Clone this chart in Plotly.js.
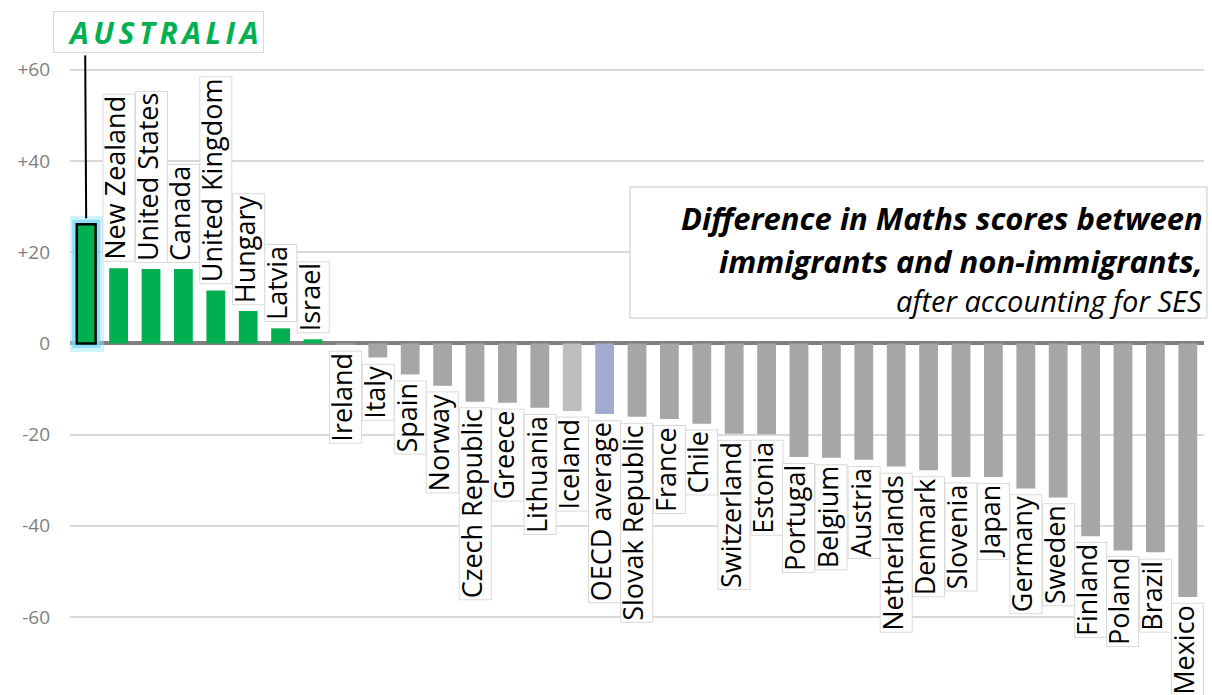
<!DOCTYPE html>
<html><head><meta charset="utf-8">
<script src="https://cdn.plot.ly/plotly-3.0.1.min.js"></script>
<style>html,body{margin:0;padding:0;background:#fff;} #chart{width:1212px;height:695px;}</style>
</head><body><div id="chart"></div>
<script>
const countries = ['Australia','New Zealand','United States','Canada','United Kingdom','Hungary','Latvia','Israel','Ireland','Italy','Spain','Norway','Czech Republic','Greece','Lithuania','Iceland','OECD average','Slovak Republic','France','Chile','Switzerland','Estonia','Portugal','Belgium','Austria','Netherlands','Denmark','Slovenia','Japan','Germany','Sweden','Finland','Poland','Brazil','Mexico'];
const scoreDiff = [26.1,16.5,16.3,16.3,11.6,7.1,3.3,0.9,-0.3,-3.1,-6.8,-9.3,-12.8,-13.0,-14.1,-14.8,-15.5,-16.1,-16.6,-17.6,-19.8,-19.9,-24.9,-25.1,-25.5,-27.0,-27.8,-29.3,-29.3,-31.8,-33.8,-42.3,-45.4,-45.8,-55.6];
const tickValues = [60,40,20,0,-20,-40,-60];
const tickLabels = ['+60','+40','+20','0','-20','-40','-60'];
const highlightCountry = 'Australia';
const highlightLabel = 'AUSTRALIA';
const titleLines = ['Difference in Maths scores between','immigrants and non-immigrants,','after accounting for SES'];

const GREEN = '#00B050', GRAY = '#A6A6A6', LIGHTGRAY = '#BEBEBE', OECDBLUE = '#A3ABCF';
const FONT = 'Open Sans, Noto Sans, sans-serif';

const colors = countries.map((c, i) => {
  if (c === 'OECD average') return OECDBLUE;
  if (c === 'Iceland') return LIGHTGRAY;
  return scoreDiff[i] >= 0 ? GREEN : GRAY;
});
const hi = countries.indexOf(highlightCountry);
const lineWidths = countries.map(c => c === highlightCountry ? 2.5 : 0);

const traces = [
  {type:'bar', x:[countries[hi]], y:[scoreDiff[hi]], width:0.58,
   marker:{color:'rgba(130,222,250,0.5)', line:{color:'rgba(150,228,252,0.45)', width:17}}, hoverinfo:'skip'},
  {type:'bar', x:[countries[hi]], y:[scoreDiff[hi]], width:0.58,
   marker:{color:'rgba(120,218,248,0.8)', line:{color:'rgba(120,218,248,0.75)', width:9}}, hoverinfo:'skip'},
  {type:'bar', x:countries, y:scoreDiff,
   marker:{color:colors, line:{color:'#000000', width:lineWidths}}}
];

const annotations = countries.map((c, i) => {
  if (c === highlightCountry) return null;
  const pos = scoreDiff[i] >= 0;
  return {
    x: c, y: scoreDiff[i], xref:'x', yref:'y', text: c, showarrow:false,
    textangle:-90, xanchor:'center', yanchor: pos ? 'bottom' : 'top',
    yshift: pos ? 6 : -6, height: 29, valign:'bottom',
    bgcolor:'#FFFFFF', bordercolor:'#D9D9D9', borderwidth:1, borderpad:1,
    font:{family:FONT, size:27, color:'#000000'}
  };
}).filter(a => a);

// connector line from the highlight label down to its bar
annotations.push({
  x: countries[hi], y: scoreDiff[hi], xref:'x', yref:'y', text:' ', showarrow:true,
  arrowhead:0, arrowwidth:2, arrowcolor:'#000000', ax:-1, ay:-171, standoff:6,
  font:{size:1}
});
annotations.push({
  xref:'paper', yref:'paper', x:-0.0147, y:0.9842, xanchor:'left', yanchor:'top',
  text: highlightLabel, showarrow:false, width:209, height:40, align:'right', valign:'middle',
  bgcolor:'#FFFFFF', bordercolor:'#D9D9D9', borderwidth:1, borderpad:0,
  font:{family:FONT, size:30, color:GREEN, weight:'bold', style:'italic'}
});
const titleY = [0.6858, 0.6247, 0.5672];
const titleSize = [31, 31, 29];
titleLines.forEach((t, i) => {
  annotations.push({
    xref:'paper', yref:'paper', x:1.0009, y:titleY[i], xanchor:'right', yanchor:'middle',
    text:t, showarrow:false,
    font:{family:FONT, size:titleSize[i], color:'#000000', weight: i < 2 ? 'bold' : 'normal', style:'italic'}
  });
});

const layout = {
  width:1212, height:695,
  margin:{l:70, r:8, t:0, b:0},
  paper_bgcolor:'#FFFFFF', plot_bgcolor:'#FFFFFF',
  showlegend:false, barmode:'overlay', bargap:0.42,
  xaxis:{type:'category', showticklabels:false, showgrid:false, zeroline:false, showline:false, ticks:'', range:[-0.5, countries.length-0.5]},
  yaxis:{range:[-77.1, 75.3], tickmode:'array', tickvals:tickValues, ticktext:tickLabels,
         showgrid:true, gridcolor:'#D9D9D9', gridwidth:2,
         zeroline:true, zerolinecolor:'#808080', zerolinewidth:4,
         showline:false, ticks:'', ticklabelstandoff:19,
         tickfont:{family:FONT, size:19, color:'#808080'}},
  shapes:[{type:'rect', xref:'paper', yref:'paper', x0:0.4938, x1:1.0026, y0:0.5424, y1:0.7309,
           fillcolor:'#FFFFFF', line:{color:'#C8C8C8', width:1}, layer:'above'}],
  annotations: annotations
};

Plotly.newPlot('chart', traces, layout, {displayModeBar:false, staticPlot:true}).then(() => {
  document.querySelectorAll('.annotation-text').forEach(el => {
    if (el.textContent === highlightLabel) el.style.letterSpacing = '4.5px';
  });
});
</script></body></html>
